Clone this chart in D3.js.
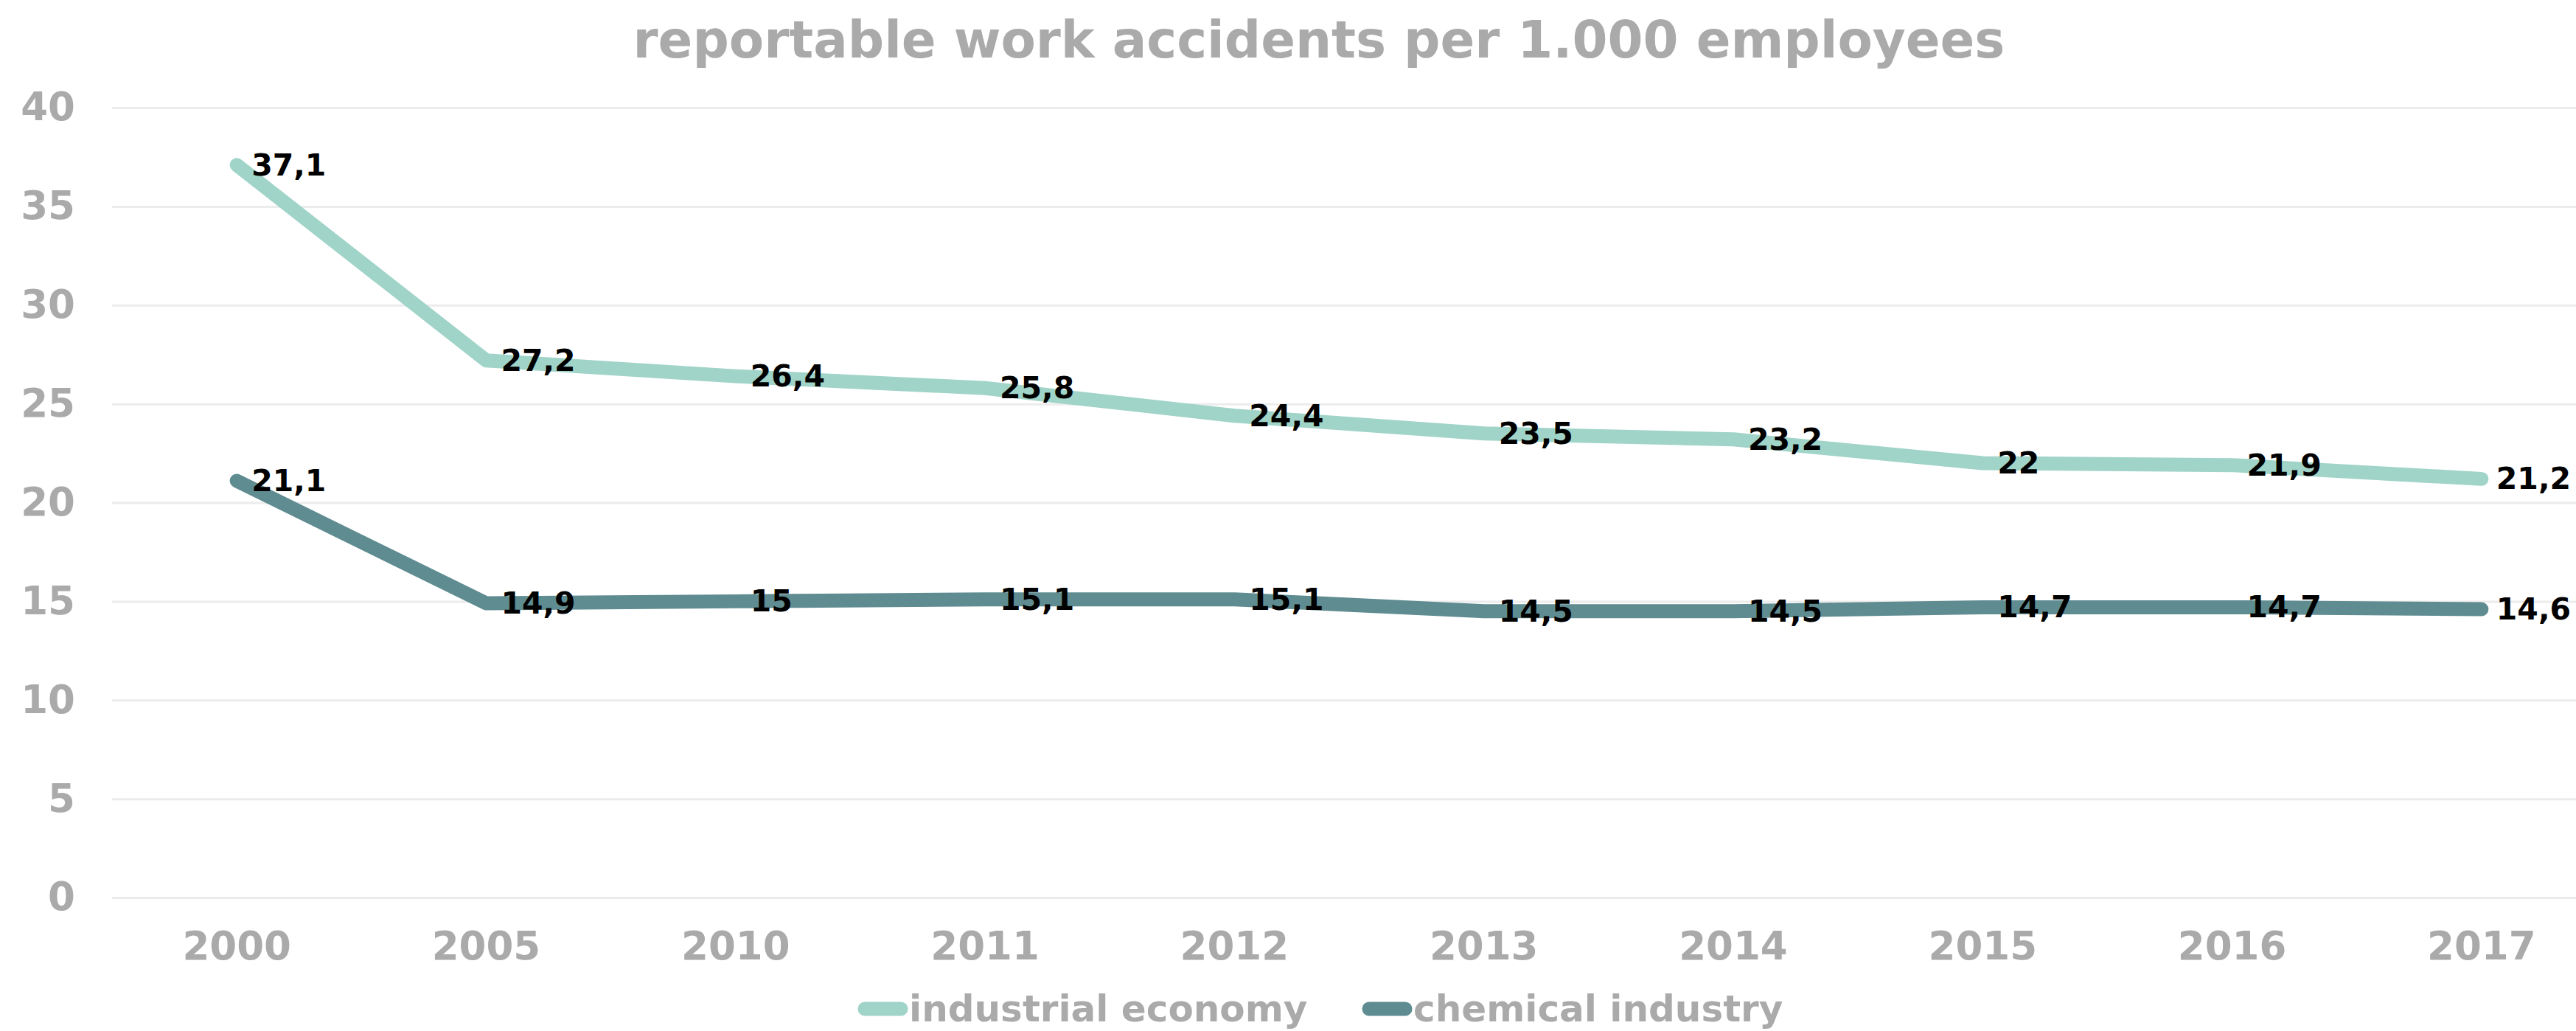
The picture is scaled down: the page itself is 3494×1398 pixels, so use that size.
<!DOCTYPE html>
<html>
<head>
<meta charset="utf-8">
<script src="https://cdn.jsdelivr.net/npm/d3@7"></script>
<style>
  body { margin: 0; background: #fff; }
  svg { display: block; font-family: "DejaVu Sans", sans-serif; font-weight: bold; }
</style>
</head>
<body>
<div id="chart-area"></div>
<script>
var years = ['2000', '2005', '2010', '2011', '2012', '2013', '2014', '2015', '2016', '2017'];
var industrialEconomy = [37.1, 27.2, 26.4, 25.8, 24.4, 23.5, 23.2, 22, 21.9, 21.2];
var chemicalIndustry = [21.1, 14.9, 15, 15.1, 15.1, 14.5, 14.5, 14.7, 14.7, 14.6];
var seriesNames = ['industrial economy', 'chemical industry'];
var seriesColors = ['#a0d4c8', '#5f8c91'];
var yTicks = [0, 5, 10, 15, 20, 25, 30, 35, 40];
var title = 'reportable work accidents per 1.000 employees';

const W = 3494, H = 1398
const MARGIN = { LEFT: 152, TOP: 146, BOTTOM: 1217 }

const svg = d3.select("#chart-area").append("svg")
      .attr("width", W)
      .attr("height", H)

const x = d3.scaleBand()
      .domain(years)
      .range([MARGIN.LEFT, MARGIN.LEFT + 338.3 * years.length])
      .padding(0)

const y = d3.scaleLinear()
      .domain([0, 40])
      .range([MARGIN.BOTTOM, MARGIN.TOP])

// title
svg.append("text")
      .attr("x", 1789)
      .attr("y", 78)
      .attr("text-anchor", "middle")
      .attr("font-size", "69px")
      .attr("fill", "#aaaaaa")
      .text(title)

// y grid + labels
const yAxis = d3.axisLeft(y)
      .tickValues(yTicks)
      .tickSize(-(W - MARGIN.LEFT))
      .tickPadding(50)
      .tickFormat(d => d)
const gy = svg.append("g")
      .attr("transform", `translate(${MARGIN.LEFT}, 0)`)
      .call(yAxis)
gy.select(".domain").remove()
gy.selectAll(".tick line").attr("stroke", "#ececec").attr("stroke-width", 3)
gy.selectAll(".tick text")
      .attr("fill", "#aaaaaa")
      .attr("font-size", "53px")
      .attr("font-family", "DejaVu Sans, sans-serif")
      .attr("font-weight", "bold")

// x labels
const xAxis = d3.axisBottom(x).tickSize(0).tickPadding(46)
const gx = svg.append("g")
      .attr("transform", `translate(0, ${MARGIN.BOTTOM})`)
      .call(xAxis)
gx.select(".domain").remove()
gx.selectAll(".tick text")
      .attr("fill", "#aaaaaa")
      .attr("font-size", "53px")
      .attr("font-family", "DejaVu Sans, sans-serif")
      .attr("font-weight", "bold")

const cx = d => x(d) + x.bandwidth() / 2
const line = d3.line()
      .x((d, i) => cx(years[i]))
      .y(d => y(d))

const allSeries = [industrialEconomy, chemicalIndustry]

allSeries.forEach(function(values, s) {
      svg.append("path")
            .datum(values)
            .attr("fill", "none")
            .attr("stroke", seriesColors[s])
            .attr("stroke-width", 19)
            .attr("stroke-linecap", "round")
            .attr("stroke-linejoin", "round")
            .attr("d", line)
})

allSeries.forEach(function(values, s) {
      svg.append("g").selectAll("text")
            .data(values)
            .enter().append("text")
            .attr("x", (d, i) => cx(years[i]) + 20)
            .attr("y", d => y(d))
            .attr("dominant-baseline", "central")
            .attr("font-size", "41px")
            .attr("fill", "#000")
            .text(d => String(d).replace('.', ','))
})

// legend
const legendX = [1164, 1848]
seriesNames.forEach(function(name, s) {
      const lg = svg.append("g")
      lg.append("line")
            .attr("x1", legendX[s] + 9).attr("x2", legendX[s] + 58)
            .attr("y1", 1368).attr("y2", 1368)
            .attr("stroke", seriesColors[s])
            .attr("stroke-width", 19)
            .attr("stroke-linecap", "round")
      lg.append("text")
            .attr("x", legendX[s] + 69)
            .attr("y", 1368)
            .attr("dominant-baseline", "central")
            .attr("font-size", "50px")
            .attr("fill", "#aaaaaa")
            .text(name)
})
</script>
</body>
</html>
